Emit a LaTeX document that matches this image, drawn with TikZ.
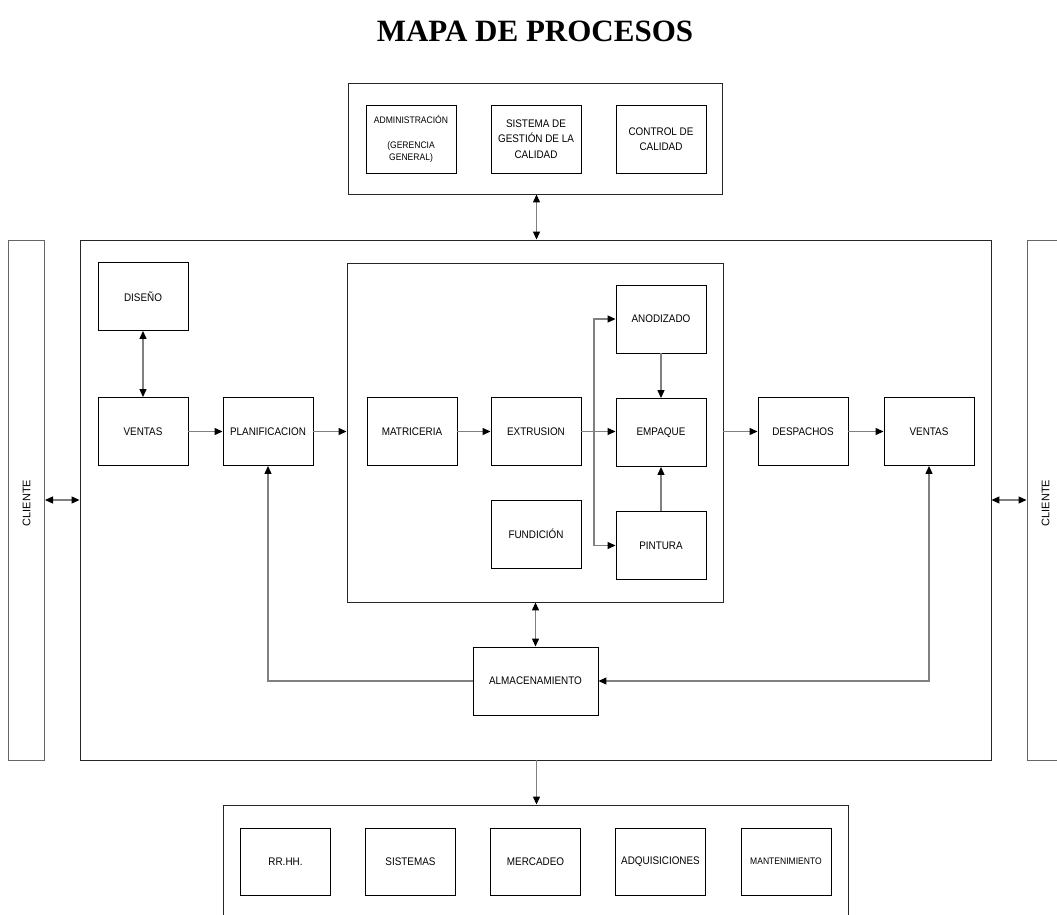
\documentclass[tikz,border=0pt]{standalone}
\usepackage{fontspec}
\setmainfont{Liberation Sans}
\newfontfamily\lab{Liberation Sans}[FakeStretch=0.9]
\newfontfamily\ttl{Liberation Serif}
\usetikzlibrary{arrows.meta}
\tikzset{
  box/.style={draw=black, line width=0.9pt, minimum width=90pt, minimum height=68pt,
    inner sep=0pt, align=center, fill=white, font=\lab\fontsize{11}{15.5}\selectfont},
  frame/.style={draw=black!85, line width=0.9pt, inner sep=0pt, fill=white},
  cframe/.style={draw=black!60, line width=1pt, inner sep=0pt, fill=white},
  conn/.style={draw=black!50, line width=1.2pt},
  onetip/.style={arrows={-Triangle[length=8pt,width=7pt,color=black]}},
  twotip/.style={arrows={Triangle[length=8pt,width=7pt,color=black]-Triangle[length=8pt,width=7pt,color=black]}},
  clabel/.style={rotate=90, font=\fontsize{11}{13}\selectfont}
}
\begin{document}
\begin{tikzpicture}[x=1pt,y=-1pt]
\clip (0,0) rectangle (1057,915);
% title
\node[font=\ttl\bfseries\fontsize{31}{31}\selectfont] (title) at (535,31) {MAPA DE PROCESOS};
% top box
\node[frame, minimum width=374pt, minimum height=111pt] (top) at (535,138.5) {};
\node[box, font=\lab\fontsize{9.5}{12.5}\selectfont] (admin) at (411,139) {ADMINISTRACIÓN\\[12.5pt](GERENCIA\\GENERAL)};
\node[box] (sgc) at (536,139) {SISTEMA DE\\GESTIÓN DE LA\\CALIDAD};
\node[box] (cc) at (661,139) {CONTROL DE\\CALIDAD};
% clients
\node[cframe, minimum width=36pt, minimum height=520pt] (cliL) at (26.5,500) {};
\node[clabel] (cliLt) at (26.5,503) {CLIENTE};
\node[cframe, minimum width=37pt, minimum height=520pt] (cliR) at (1045.5,500) {};
\node[clabel] (cliRt) at (1045.5,503) {CLIENTE};
% main box
\node[frame, minimum width=911pt, minimum height=520pt] (main) at (535.5,500) {};
\node[box] (dis) at (143,296.5) {DISEÑO};
\node[box] (venL) at (143,431.5) {VENTAS};
\node[box] (plan) at (268,431.5) {PLANIFICACION};
% production box
\node[frame, minimum width=376pt, minimum height=339pt] (prod) at (535,432.5) {};
\node[box] (mat) at (412,431.5) {MATRICERIA};
\node[box] (ext) at (536,431.5) {EXTRUSION};
\node[box] (fun) at (536,534) {FUNDICIÓN};
\node[box] (anod) at (661,319) {ANODIZADO};
\node[box] (emp) at (661,432.5) {EMPAQUE};
\node[box] (pint) at (661,545.5) {PINTURA};
\node[box] (desp) at (803,431.5) {DESPACHOS};
\node[box] (venR) at (929,431.5) {VENTAS};
\node[box, minimum width=125pt] (alm) at (535.5,681) {ALMACENAMIENTO};
% bottom box
\node[frame, minimum width=625pt, minimum height=160pt] (bot) at (535.5,885) {};
\node[box, minimum height=67pt] (rrhh) at (285.5,861.5) {RR.HH.};
\node[box, minimum height=67pt] (sis) at (410.5,861.5) {SISTEMAS};
\node[box, minimum height=67pt] (mer) at (535.5,861.5) {MERCADEO};
\node[box, minimum height=67pt] (adq) at (660.5,861.5) {ADQUISICIONES};
\node[box, minimum height=67pt, font=\lab\fontsize{9.5}{12}\selectfont] (man) at (786,861.5) {MANTENIMIENTO};
% connectors
\draw[conn, twotip] (top.south -| 536.5,0) -- (main.north -| 536.5,0);
\draw[conn, twotip] (cliL.east) -- (main.west);
\draw[conn, twotip] (main.east) -- (cliR.west);
\draw[conn, twotip] (dis.south) -- (venL.north);
\draw[conn, onetip] (venL.east) -- (plan.west);
\draw[conn, onetip] (plan.east) -- (plan.east -| prod.west);
\draw[conn, onetip] (mat.east) -- (ext.west);
\draw[conn, onetip] (ext.east) -- (ext.east -| emp.west);
\coordinate (br) at (594,431.5);
\draw[conn, onetip] (br) |- (anod.west);
\draw[conn, onetip] (br) |- (pint.west);
\draw[conn, onetip] (anod.south) -- (emp.north);
\draw[conn, onetip] (pint.north) -- (emp.south);
\draw[conn, onetip] (desp.west -| prod.east) -- (desp.west);
\draw[conn, onetip] (desp.east) -- (venR.west);
\draw[conn, twotip] (alm.north |- prod.south) -- (alm.north);
\draw[conn, onetip] (alm.west) -| (plan.south);
\draw[conn, twotip] (venR.south) |- (alm.east);
\draw[conn, onetip] (main.south -| 536.5,0) -- (bot.north -| 536.5,0);
\end{tikzpicture}
\end{document}
